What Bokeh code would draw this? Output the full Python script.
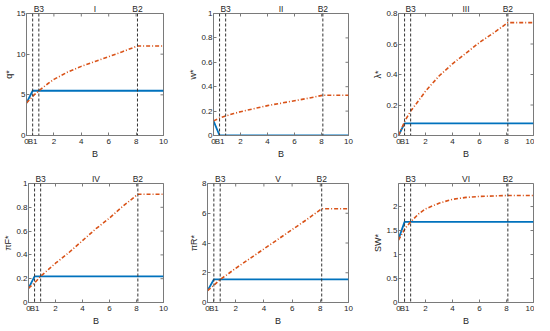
import math
from bokeh.plotting import figure
from bokeh.models import Range1d, Span, FixedTicker, LinearAxis
from bokeh.layouts import column, row
from bokeh.embed import file_html
from bokeh.resources import INLINE

# thresholds
B1, B3, B2 = 0.45, 0.9, 8.1
B_blue = [0, B1, 10]
B_red = [0, 0.5, B3, 1.5, 2, 3, 4, 5, 6, 7, B2, 10]
x_ticks = [0, 2, 4, 6, 8, 10]

# Panel I  q*
q_blue = [4.0, 5.5, 5.5]
q_red = [4.0, 4.9, 5.5, 6.3, 6.9, 7.8, 8.5, 9.1, 9.7, 10.3, 11.0, 11.0]
q_ticks = [0, 5, 10, 15]
# Panel II  w*
w_blue = [0.12, 0.0, 0.0]
w_red = [0.12, 0.145, 0.16, 0.18, 0.195, 0.22, 0.245, 0.265, 0.285, 0.305, 0.33, 0.33]
w_ticks = [0, 0.2, 0.4, 0.6, 0.8, 1]
# Panel III  lambda*
l_blue = [0.0, 0.08, 0.08]
l_red = [0.0, 0.10, 0.16, 0.23, 0.29, 0.39, 0.47, 0.54, 0.61, 0.67, 0.74, 0.74]
l_ticks = [0, 0.2, 0.4, 0.6, 0.8]
# Panel IV  piF*
f_blue = [0.12, 0.22, 0.22]
f_red = [0.12, 0.17, 0.22, 0.28, 0.33, 0.42, 0.52, 0.62, 0.71, 0.81, 0.91, 0.91]
f_ticks = [0, 0.2, 0.4, 0.6, 0.8, 1]
# Panel V  piR*
r_blue = [0.8, 1.55, 1.55]
r_red = [0.8, 1.2, 1.55, 1.95, 2.3, 2.95, 3.6, 4.25, 4.9, 5.55, 6.3, 6.3]
r_ticks = [0, 2, 4, 6, 8]
# Panel VI  SW*
s_blue = [1.32, 1.68, 1.68]
s_red = [1.30, 1.55, 1.68, 1.85, 1.95, 2.07, 2.15, 2.19, 2.21, 2.22, 2.23, 2.23]
s_ticks = [0, 0.5, 1, 1.5, 2]

panels = [
    ("I", "q*", q_blue, q_red, 15, q_ticks),
    ("II", "w*", w_blue, w_red, 1, w_ticks),
    ("III", "λ*", l_blue, l_red, 0.8, l_ticks),
    ("IV", "πF*", f_blue, f_red, 1, f_ticks),
    ("V", "πR*", r_blue, r_red, 8, r_ticks),
    ("VI", "SW*", s_blue, s_red, 2.48, s_ticks),
]

widths = [185, 185, 164]
mb_left = [21, 22, 23]
mb_right = [22, 22, 1]
heights = [170, 158]
mb_top = [12, 13]
mb_bottom = [35, 23]

AX = "#7a7a7a"
TXT = "#262626"
FONT = "Liberation Sans"


def style_axis(ax):
    ax.axis_line_color = AX
    ax.major_tick_line_color = AX
    ax.major_tick_in = 3
    ax.major_tick_out = 0
    ax.minor_tick_line_color = None
    ax.major_label_text_font = FONT
    ax.major_label_text_font_size = "8px"
    ax.major_label_text_color = TXT
    ax.major_label_standoff = 1
    ax.axis_label_text_font = FONT
    ax.axis_label_text_font_size = "9px"
    ax.axis_label_text_font_style = "normal"
    ax.axis_label_text_color = TXT
    ax.axis_label_standoff = 0


def make(i):
    numeral, ylabel, yb, yr, ymax, yticks = panels[i]
    r, c = divmod(i, 3)
    p = figure(width=widths[c], height=heights[r], output_backend="svg",
               toolbar_location=None, x_range=Range1d(0, 10),
               y_range=Range1d(0, ymax),
               min_border_left=mb_left[c], min_border_right=mb_right[c],
               min_border_top=mb_top[r], min_border_bottom=mb_bottom[r])
    p.grid.visible = False
    p.outline_line_color = AX
    p.background_fill_color = "white"
    p.border_fill_color = "white"
    p.xaxis.axis_label = "B"
    p.yaxis.axis_label = ylabel
    xt = sorted(x_ticks + [B1])
    p.xaxis.ticker = FixedTicker(ticks=xt)
    p.yaxis.ticker = FixedTicker(ticks=yticks)
    xlab = {t: "%g" % t for t in x_ticks}
    xlab[B1] = "B1"
    p.xaxis.major_label_overrides = xlab
    p.yaxis.major_label_overrides = {t: "%g" % t for t in yticks}
    for ax in p.xaxis + p.yaxis:
        style_axis(ax)

    # top labels: B3, panel numeral, B2
    top = LinearAxis(ticker=FixedTicker(ticks=[B3, 5, B2]))
    style_axis(top)
    top.axis_line_color = None
    top.major_tick_line_color = None
    top.major_label_text_font_size = "8.5px"
    top.major_label_standoff = 0
    top.major_label_overrides = {B3: "B3", 5: numeral, B2: "B2"}
    p.add_layout(top, "above")

    # inward tick marks on top and right edges
    p.scatter(x_ticks, [ymax] * len(x_ticks), marker="dash", angle=math.pi / 2,
              size=6, line_color=AX, line_width=1)
    p.scatter([10] * len(yticks), yticks, marker="dash", size=6,
              line_color=AX, line_width=1)

    for loc in (B1, B3, B2):
        p.add_layout(Span(location=loc, dimension="height", line_color="#333333",
                          line_dash="3 2", line_width=1))

    p.line(B_blue, yb, line_color="#0072BD", line_width=1.8)
    p.line(B_red, yr, line_color="#D95319", line_width=1.6, line_dash="4 2 1 2")
    return p


figs = [make(i) for i in range(6)]
layout = column(row(*figs[:3]), row(*figs[3:]))

open("out.html", "w").write(file_html(layout, INLINE))
